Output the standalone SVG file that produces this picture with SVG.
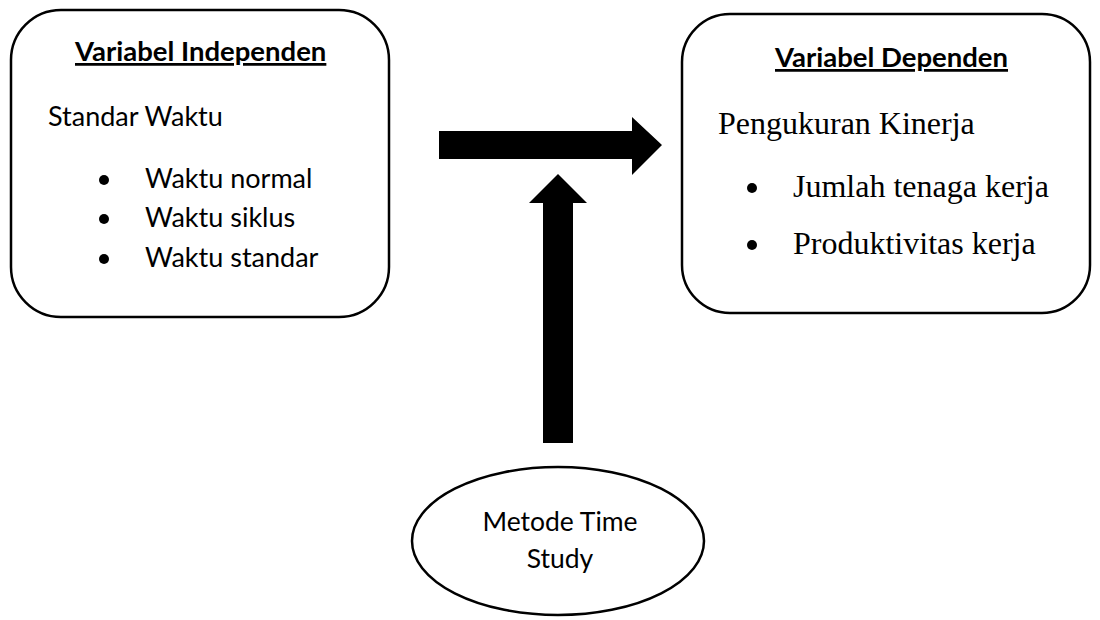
<svg xmlns="http://www.w3.org/2000/svg" width="1100" height="620" viewBox="0 0 1100 620">
<style>
.box{fill:#fff;stroke:#000;stroke-width:2.5}
.sans{font-family:Lato,"Open Sans","Liberation Sans",sans-serif;fill:#000}
.serif{font-family:"Liberation Serif","Times New Roman",serif;fill:#000}
.title{font-weight:bold;font-size:27.5px;text-decoration:underline}
.arrow{fill:#000}
</style>
<rect width="1100" height="620" fill="#fff"/>
<g id="independen">
<rect class="box" x="11" y="10" width="378" height="307" rx="50" ry="50"/>
<text class="sans title" x="75" y="61">Variabel Independen</text>
<text class="sans" x="48" y="126" font-size="27">Standar Waktu</text>
<circle cx="104" cy="180" r="5"/>
<circle cx="104" cy="219" r="5"/>
<circle cx="104" cy="259" r="5"/>
<text class="sans" x="145" y="188" font-size="27">Waktu normal</text>
<text class="sans" x="145" y="227" font-size="27">Waktu siklus</text>
<text class="sans" x="145" y="267" font-size="27">Waktu standar</text>
</g>
<g id="dependen">
<rect class="box" x="682" y="14" width="408" height="299" rx="48" ry="48"/>
<text class="sans title" x="775" y="67">Variabel Dependen</text>
<text class="serif" x="718" y="134" font-size="32">Pengukuran Kinerja</text>
<circle cx="752" cy="188" r="5"/>
<circle cx="752" cy="245" r="5"/>
<text class="serif" x="793" y="197" font-size="32">Jumlah tenaga kerja</text>
<text class="serif" x="793" y="254" font-size="32">Produktivitas kerja</text>
</g>
<g id="metode">
<ellipse class="box" cx="558" cy="541" rx="146" ry="74"/>
<text class="sans" x="560" y="531" font-size="26.5" text-anchor="middle">Metode Time</text>
<text class="sans" x="560" y="568" font-size="26.5" text-anchor="middle">Study</text>
</g>
<g id="connectors">
<polygon class="arrow" points="439,131 632,131 632,117 662,145 632,175 632,159 439,159"/>
<polygon class="arrow" points="543,443 543,203 529,203 558,174 587,203 573,203 573,443"/>
</g>
</svg>
